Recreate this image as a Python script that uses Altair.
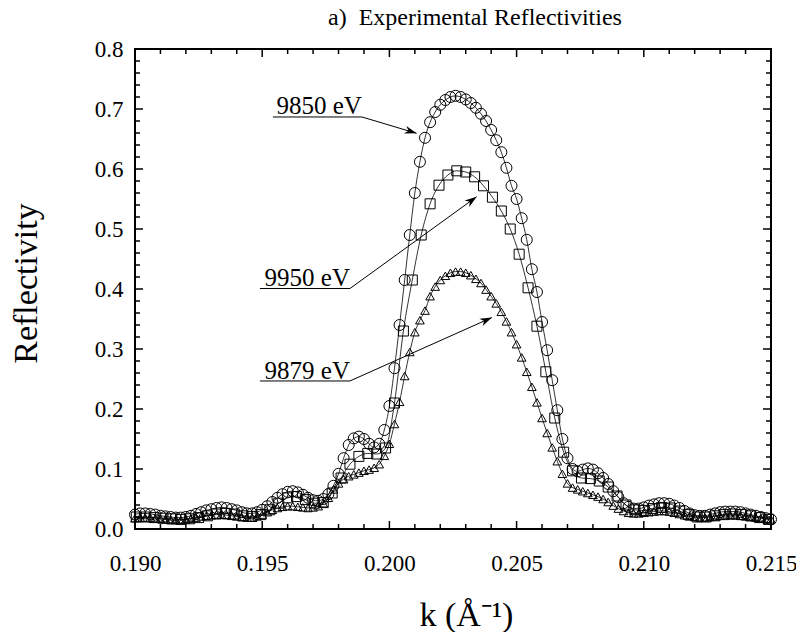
import altair as alt
import pandas as pd

# ---------------- data ----------------
K_FINE = [
    0.1900, 0.1902, 0.1904, 0.1906, 0.1908,
    0.1910, 0.1912, 0.1914, 0.1916, 0.1918,
    0.1920, 0.1922, 0.1924, 0.1926, 0.1928,
    0.1930, 0.1932, 0.1934, 0.1936, 0.1938,
    0.1940, 0.1942, 0.1944, 0.1946, 0.1948,
    0.1950, 0.1952, 0.1954, 0.1956, 0.1958,
    0.1960, 0.1962, 0.1964, 0.1966, 0.1968,
    0.1970, 0.1972, 0.1974, 0.1976, 0.1978,
    0.1980, 0.1982, 0.1984, 0.1986, 0.1988,
    0.1990, 0.1992, 0.1994, 0.1996, 0.1998,
    0.2000, 0.2002, 0.2004, 0.2006, 0.2008,
    0.2010, 0.2012, 0.2014, 0.2016, 0.2018,
    0.2020, 0.2022, 0.2024, 0.2026, 0.2028,
    0.2030, 0.2032, 0.2034, 0.2036, 0.2038,
    0.2040, 0.2042, 0.2044, 0.2046, 0.2048,
    0.2050, 0.2052, 0.2054, 0.2056, 0.2058,
    0.2060, 0.2062, 0.2064, 0.2066, 0.2068,
    0.2070, 0.2072, 0.2074, 0.2076, 0.2078,
    0.2080, 0.2082, 0.2084, 0.2086, 0.2088,
    0.2090, 0.2092, 0.2094, 0.2096, 0.2098,
    0.2100, 0.2102, 0.2104, 0.2106, 0.2108,
    0.2110, 0.2112, 0.2114, 0.2116, 0.2118,
    0.2120, 0.2122, 0.2124, 0.2126, 0.2128,
    0.2130, 0.2132, 0.2134, 0.2136, 0.2138,
    0.2140, 0.2142, 0.2144, 0.2146, 0.2148,
    0.2150,
]

R_9850 = [
    0.024, 0.026, 0.026, 0.025, 0.024,
    0.022, 0.021, 0.020, 0.019, 0.019,
    0.020, 0.022, 0.025, 0.028, 0.031,
    0.033, 0.035, 0.036, 0.035, 0.033,
    0.031, 0.028, 0.026, 0.026, 0.028,
    0.032, 0.038, 0.045, 0.052, 0.058,
    0.062, 0.063, 0.061, 0.057, 0.052,
    0.048, 0.047, 0.050, 0.058, 0.072,
    0.092, 0.118, 0.140, 0.151, 0.154,
    0.150, 0.142, 0.136, 0.142, 0.165,
    0.205, 0.268, 0.340, 0.415, 0.490,
    0.560, 0.612, 0.652, 0.678, 0.695,
    0.707, 0.715, 0.720, 0.722, 0.720,
    0.716, 0.710, 0.702, 0.692, 0.680,
    0.665, 0.648, 0.628, 0.602, 0.572,
    0.550, 0.518, 0.482, 0.433, 0.395,
    0.345, 0.298, 0.248, 0.198, 0.150,
    0.118, 0.100, 0.096, 0.099, 0.101,
    0.099, 0.093, 0.085, 0.075, 0.063,
    0.053, 0.043, 0.037, 0.034, 0.034,
    0.036, 0.039, 0.041, 0.043, 0.043,
    0.042, 0.039, 0.035, 0.030, 0.026,
    0.023, 0.022, 0.022, 0.024, 0.026,
    0.028, 0.029, 0.029, 0.029, 0.028,
    0.026, 0.024, 0.022, 0.020, 0.018,
    0.016,
]

R_9879 = [
    0.018, 0.019, 0.019, 0.019, 0.018,
    0.017, 0.016, 0.015, 0.015, 0.015,
    0.016, 0.017, 0.019, 0.021, 0.022,
    0.023, 0.024, 0.024, 0.023, 0.022,
    0.021, 0.020, 0.019, 0.019, 0.021,
    0.024, 0.028, 0.032, 0.035, 0.037,
    0.038, 0.038, 0.037, 0.036, 0.035,
    0.036, 0.038, 0.043, 0.052, 0.066,
    0.076, 0.083, 0.088, 0.091, 0.094,
    0.097, 0.099, 0.102, 0.108, 0.122,
    0.142, 0.175, 0.212, 0.255, 0.295,
    0.328, 0.348, 0.364, 0.388, 0.404,
    0.415, 0.422, 0.427, 0.429, 0.429,
    0.427, 0.423, 0.417, 0.410, 0.399,
    0.388, 0.376, 0.362, 0.346, 0.328,
    0.308, 0.286, 0.262, 0.237, 0.211,
    0.185, 0.160, 0.136, 0.113, 0.092,
    0.076, 0.069, 0.066, 0.063, 0.060,
    0.057, 0.054, 0.050, 0.045, 0.039,
    0.034, 0.030, 0.027, 0.026, 0.026,
    0.027, 0.028, 0.029, 0.030, 0.030,
    0.029, 0.027, 0.025, 0.023, 0.021,
    0.020, 0.019, 0.019, 0.020, 0.021,
    0.022, 0.023, 0.023, 0.023, 0.022,
    0.021, 0.020, 0.019, 0.018, 0.017,
    0.016,
]

K_SQ = [
    0.19005, 0.19040, 0.19075, 0.19110, 0.19145, 0.19180, 0.19215, 0.19250, 0.19285, 0.19320,
    0.19355, 0.19390, 0.19425, 0.19460, 0.19495, 0.19530, 0.19565, 0.19600, 0.19635, 0.19670,
    0.19705, 0.19740, 0.19775, 0.19810, 0.19845, 0.19880, 0.19915, 0.19950, 0.19985, 0.20020,
    0.20055, 0.20090, 0.20125, 0.20160, 0.20195, 0.20230, 0.20265, 0.20300, 0.20335, 0.20370,
    0.20405, 0.20440, 0.20475, 0.20510, 0.20545, 0.20580, 0.20615, 0.20650, 0.20685, 0.20720,
    0.20755, 0.20790, 0.20825, 0.20860, 0.20895, 0.20930, 0.20965, 0.21000, 0.21035, 0.21070,
    0.21105, 0.21140, 0.21175, 0.21210, 0.21245, 0.21280, 0.21315, 0.21350, 0.21385, 0.21420,
    0.21455, 0.21490,
]

R_9950 = [
    0.020, 0.020, 0.019, 0.018, 0.017, 0.016, 0.017, 0.019, 0.022, 0.025,
    0.026, 0.025, 0.022, 0.021, 0.024, 0.032, 0.043, 0.052, 0.054, 0.049,
    0.043, 0.044, 0.060, 0.085, 0.108, 0.121, 0.126, 0.125, 0.135, 0.210,
    0.330, 0.415, 0.490, 0.542, 0.573, 0.590, 0.597, 0.595, 0.587, 0.572,
    0.553, 0.530, 0.500, 0.458, 0.402, 0.338, 0.262, 0.185, 0.128, 0.097,
    0.085, 0.084, 0.080, 0.070, 0.055, 0.040, 0.032, 0.031, 0.034, 0.036,
    0.035, 0.030, 0.024, 0.020, 0.020, 0.022, 0.024, 0.025, 0.024, 0.022,
    0.019, 0.016,
]

# axis tick values
X_MAJOR = [0.190, 0.195, 0.200, 0.205, 0.210, 0.215]
X_MINOR = [0.191, 0.192, 0.193, 0.194, 0.196, 0.197, 0.198, 0.199,
           0.201, 0.202, 0.203, 0.204, 0.206, 0.207, 0.208, 0.209,
           0.211, 0.212, 0.213, 0.214]
Y_MAJOR = [0.0, 0.1, 0.2, 0.3, 0.4, 0.5, 0.6, 0.7, 0.8]
Y_MINOR = [0.02, 0.04, 0.06, 0.08, 0.12, 0.14, 0.16, 0.18, 0.22, 0.24, 0.26, 0.28,
           0.32, 0.34, 0.36, 0.38, 0.42, 0.44, 0.46, 0.48, 0.52, 0.54, 0.56, 0.58,
           0.62, 0.64, 0.66, 0.68, 0.72, 0.74, 0.76, 0.78]

# annotations
ANN_LABEL = ["9850 eV", "9950 eV", "9879 eV"]
ANN_TEXT_K = [0.19892, 0.19845, 0.19845]
ANN_TEXT_R = [0.6917, 0.4058, 0.2508]
ANN_LINE_K0 = [0.19542, 0.19491, 0.19491]
ANN_ARROW_K0 = [0.19892, 0.19845, 0.19845]
ANN_ARROW_R0 = [0.6867, 0.4008, 0.2467]
ANN_ARROW_K1 = [0.20107, 0.20343, 0.20403]
ANN_ARROW_R1 = [0.6595, 0.5538, 0.3525]
ANN_ANGLE = [107.5, 54.1, 65.7]

FONT = "Liberation Serif"
W, H = 636, 480

xs = alt.Scale(domain=[0.19, 0.215], nice=False, zero=False)
ys = alt.Scale(domain=[0.0, 0.8], nice=False, zero=False)

x_axis = alt.Axis(values=X_MAJOR, format=".3f", ticks=False, tickSize=0, domain=False, grid=False,
                  labelPadding=23, labelFontSize=23, labelFont=FONT, labelColor="black",
                  title="k (Å⁻¹)", titleFont=FONT, titleFontSize=34, titleFontWeight="normal",
                  titleColor="black", titleX=331, titleY=96, titleBaseline="alphabetic",
                  titleAlign="center", labelFlush=False)
y_axis = alt.Axis(values=Y_MAJOR, format=".1f", ticks=False, tickSize=0, domain=False, grid=False,
                  labelPadding=12, labelFontSize=23, labelFont=FONT, labelColor="black",
                  title="Reflectivity", titleFont=FONT, titleFontSize=34, titleFontWeight="normal",
                  titleColor="black", titleX=-99, titleY=234, titleAngle=-90,
                  titleBaseline="alphabetic", titleAlign="center", labelFlush=False)


def X(field):
    return alt.X(field, scale=xs, axis=x_axis)


def Y(field):
    return alt.Y(field, scale=ys, axis=y_axis)


df_850 = pd.DataFrame({"k": K_FINE, "r": R_9850})
df_879 = pd.DataFrame({"k": K_FINE, "r": R_9879})
df_950 = pd.DataFrame({"k": K_SQ, "r": R_9950})


def series(df, shape, size):
    line = alt.Chart(df).mark_line(color="black", strokeWidth=0.8, interpolate="monotone").encode(
        x=X("k:Q"), y=Y("r:Q"))
    pts = alt.Chart(df).mark_point(shape=shape, filled=False, size=size, color="black",
                                   strokeWidth=1, opacity=1).encode(x=X("k:Q"), y=Y("r:Q"))
    return [line, pts]


layers = []
layers += series(df_850, "circle", 121)
layers += series(df_950, "square", 100)
layers += series(df_879, "triangle-up", 75)

ann = pd.DataFrame({
    "label": ANN_LABEL, "tk": ANN_TEXT_K, "tr": ANN_TEXT_R, "uk": ANN_LINE_K0,
    "k0": ANN_ARROW_K0, "r0": ANN_ARROW_R0, "k1": ANN_ARROW_K1, "r1": ANN_ARROW_R1,
    "angle": ANN_ANGLE,
})
base = alt.Chart(ann)
layers.append(base.mark_text(align="right", baseline="alphabetic", font=FONT, fontSize=25,
                             color="black").encode(x=X("tk:Q"), y=Y("tr:Q"), text="label:N"))
layers.append(base.mark_rule(color="black", strokeWidth=1).encode(
    x=X("uk:Q"), x2="k0:Q", y=Y("r0:Q")))
layers.append(base.mark_rule(color="black", strokeWidth=1).encode(
    x=X("k0:Q"), x2="k1:Q", y=Y("r0:Q"), y2="r1:Q"))
layers.append(base.mark_point(shape="M0,0 L-0.4,1.2 L0,0.85 L0.4,1.2 Z", filled=True, size=400,
                              color="black", strokeWidth=0, opacity=1).encode(
    x=X("k1:Q"), y=Y("r1:Q"), angle=alt.Angle("angle:Q", scale=None)))


def xticks(values, length):
    d = pd.DataFrame({"t": values})
    bot = alt.Chart(d).mark_rule(color="black", strokeWidth=1.5).encode(
        x=X("t:Q"), y=alt.value(H), y2=alt.value(H - length))
    top = alt.Chart(d).mark_rule(color="black", strokeWidth=1.5).encode(
        x=X("t:Q"), y=alt.value(0), y2=alt.value(length))
    return [bot, top]


def yticks(values, length):
    d = pd.DataFrame({"t": values})
    left = alt.Chart(d).mark_rule(color="black", strokeWidth=1.5).encode(
        y=Y("t:Q"), x=alt.value(0), x2=alt.value(length))
    right = alt.Chart(d).mark_rule(color="black", strokeWidth=1.5).encode(
        y=Y("t:Q"), x=alt.value(W), x2=alt.value(W - length))
    return [left, right]


layers += xticks(X_MAJOR, 8) + xticks(X_MINOR, 5) + yticks(Y_MAJOR, 8) + yticks(Y_MINOR, 5)

chart = alt.layer(*layers).properties(
    width=W, height=H,
    autosize=alt.AutoSizeParams(type="none"),
    padding={"left": 127, "top": 41, "right": 25, "bottom": 103},
    title=alt.TitleParams("a)\u00a0 Experimental Reflectivities", font=FONT, fontSize=24,
                          fontWeight="normal", color="black", anchor="middle", frame="group",
                          baseline="top", offset=8, dx=22),
    background="white",
).configure_view(stroke="black", strokeWidth=2).configure_axis(
    labelFont=FONT, titleFont=FONT, labelColor="black", titleColor="black"
).configure_title(font=FONT)

chart.save("out.html", embed_options={"renderer": "svg", "actions": False})
